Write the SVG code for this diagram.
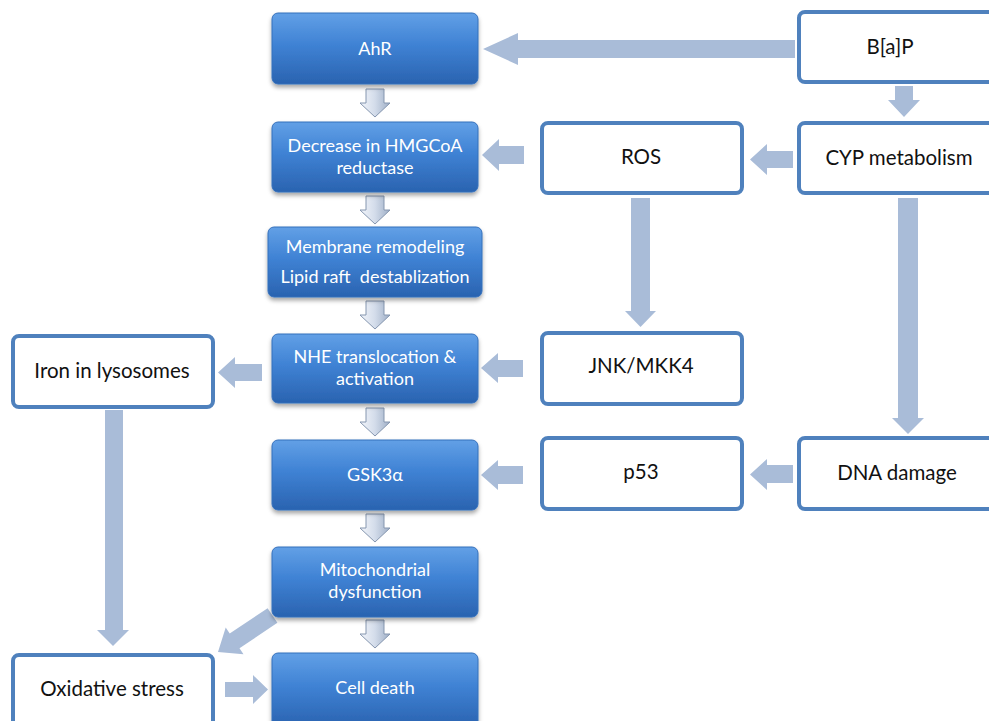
<svg xmlns="http://www.w3.org/2000/svg" xmlns:xlink="http://www.w3.org/1999/xlink" width="989" height="721" viewBox="0 0 989 721">
<defs>
  <linearGradient id="blueGrad" x1="0" y1="0" x2="0" y2="1">
    <stop offset="0" stop-color="#62a0e6"/>
    <stop offset="0.45" stop-color="#3f82d4"/>
    <stop offset="1" stop-color="#2a63b0"/>
  </linearGradient>
  <linearGradient id="smallGrad" x1="0" y1="0" x2="1" y2="0">
    <stop offset="0" stop-color="#f3f6fb"/>
    <stop offset="0.5" stop-color="#d3dcea"/>
    <stop offset="1" stop-color="#9fafc7"/>
  </linearGradient>
  <filter id="shadow" x="-10%" y="-10%" width="120%" height="135%">
    <feDropShadow dx="0" dy="3" stdDeviation="2.2" flood-color="#000" flood-opacity="0.35"/>
  </filter>
  <path id="smallArrow" d="M-9,0 H9 V14 H15 L0,28 L-15,14 H-9 Z"/>
</defs>
<style>
  .blue { fill: url(#blueGrad); stroke: #3570bb; stroke-width: 1; filter: url(#shadow); }
  .white { fill: #ffffff; stroke: #4f81bd; stroke-width: 4; }
  .wt { font-family: Lato, "Noto Sans", sans-serif; font-size: 18px; fill: #ffffff; text-anchor: middle; white-space: pre; }
  .bt { font-family: Lato, "Noto Sans", sans-serif; font-size: 20.5px; fill: #111111; text-anchor: middle; }
  .blk { fill: #a9bcd8; }
  .sa { fill: url(#smallGrad); stroke: #8596af; stroke-width: 1; }
</style>

<g id="connectors">
  <!-- B[a]P -> AhR -->
  <polygon class="blk" points="795,40 518,40 518,33 483,49 518,65 518,58 795,58"/>
  <!-- B[a]P -> CYP -->
  <polygon class="blk" points="895,86 913,86 913,100 920,100 904,117 888,100 895,100"/>
  <!-- CYP -> ROS -->
  <polygon class="blk" points="793,151 767,151 767,144 750,159.5 767,175 767,168 793,168"/>
  <!-- ROS -> Decrease -->
  <polygon class="blk" points="524,146 499,146 499,139 482,155 499,171 499,164 524,164"/>
  <!-- ROS -> JNK -->
  <polygon class="blk" points="631,198 650,198 650,311 656,311 640.5,327 625,311 631,311"/>
  <!-- CYP -> DNA damage -->
  <polygon class="blk" points="898,198 918,198 918,418 924,418 908,434 892,418 898,418"/>
  <!-- JNK -> NHE -->
  <polygon class="blk" points="523,360 498,360 498,353 481,368 498,383 498,377 523,377"/>
  <!-- DNA damage -> p53 -->
  <polygon class="blk" points="793,465 767,465 767,459 750,474.5 767,490 767,483 793,483"/>
  <!-- p53 -> GSK3a -->
  <polygon class="blk" points="523,466 498,466 498,460 481,475 498,490 498,484 523,484"/>
  <!-- NHE -> Iron -->
  <polygon class="blk" points="262,364 235,364 235,357 218,372.5 235,388 235,381 262,381"/>
  <!-- Iron -> Oxidative stress -->
  <polygon class="blk" points="105,410 123,410 123,630 129,630 113,646 97,630 105,630"/>
  <!-- Mito -> Oxidative stress -->
  <polygon class="blk" points="267.6,608.2 229.7,633.6 225.7,627.6 218,652 243.5,654.2 239.5,648.2 277.4,622.8"/>
  <!-- Oxidative stress -> Cell death -->
  <polygon class="blk" points="225,682 253,682 253,675 268,689.5 253,704 253,697 225,697"/>
  <!-- small arrows along main chain -->
  <use href="#smallArrow" class="sa" x="375" y="89"/>
  <use href="#smallArrow" class="sa" x="375" y="196"/>
  <use href="#smallArrow" class="sa" x="375" y="301"/>
  <use href="#smallArrow" class="sa" x="375" y="408"/>
  <use href="#smallArrow" class="sa" x="375" y="514"/>
  <use href="#smallArrow" class="sa" x="375" y="620"/>
</g>

<g id="node-ahr">
  <rect class="blue" x="272" y="13" width="206" height="71" rx="6"/>
  <text class="wt" x="375" y="55">AhR</text>
</g>
<g id="node-hmgcoa">
  <rect class="blue" x="272" y="122" width="206" height="70" rx="6"/>
  <text class="wt" x="375" y="152">Decrease in HMGCoA</text>
  <text class="wt" x="375" y="174">reductase</text>
</g>
<g id="node-membrane">
  <rect class="blue" x="268" y="227" width="214" height="70" rx="6"/>
  <text class="wt" x="375" y="253">Membrane remodeling</text>
  <text class="wt" x="375" y="283">Lipid raft  destablization</text>
</g>
<g id="node-nhe">
  <rect class="blue" x="272" y="334" width="206" height="69" rx="6"/>
  <text class="wt" x="375" y="363">NHE translocation &amp;</text>
  <text class="wt" x="375" y="385">activation</text>
</g>
<g id="node-gsk">
  <rect class="blue" x="272" y="440" width="206" height="70" rx="6"/>
  <text class="wt" x="375" y="481">GSK3α</text>
</g>
<g id="node-mito">
  <rect class="blue" x="272" y="547" width="206" height="70" rx="6"/>
  <text class="wt" x="375" y="576">Mitochondrial</text>
  <text class="wt" x="375" y="598">dysfunction</text>
</g>
<g id="node-celldeath">
  <rect class="blue" x="272" y="653" width="206" height="74" rx="6"/>
  <text class="wt" x="375" y="694">Cell death</text>
</g>

<g id="node-bap">
  <rect class="white" x="799" y="12" width="200" height="70" rx="6"/>
  <text class="bt" x="890" y="54">B[a]P</text>
</g>
<g id="node-cyp">
  <rect class="white" x="799" y="123" width="200" height="70" rx="6"/>
  <text class="bt" x="899" y="165">CYP metabolism</text>
</g>
<g id="node-ros">
  <rect class="white" x="542" y="123" width="200" height="70" rx="6"/>
  <text class="bt" x="641" y="164">ROS</text>
</g>
<g id="node-jnk">
  <rect class="white" x="542" y="333" width="200" height="71" rx="6"/>
  <text class="bt" x="641" y="373">JNK/MKK4</text>
</g>
<g id="node-p53">
  <rect class="white" x="542" y="438" width="200" height="71" rx="6"/>
  <text class="bt" x="641" y="479">p53</text>
</g>
<g id="node-dna">
  <rect class="white" x="799" y="438" width="200" height="71" rx="6"/>
  <text class="bt" x="897" y="480">DNA damage</text>
</g>
<g id="node-iron">
  <rect class="white" x="13" y="336" width="200" height="71" rx="6"/>
  <text class="bt" x="112" y="378">Iron in lysosomes</text>
</g>
<g id="node-oxidative">
  <rect class="white" x="13" y="655" width="200" height="72" rx="6"/>
  <text class="bt" x="112" y="696">Oxidative stress</text>
</g>
</svg>
